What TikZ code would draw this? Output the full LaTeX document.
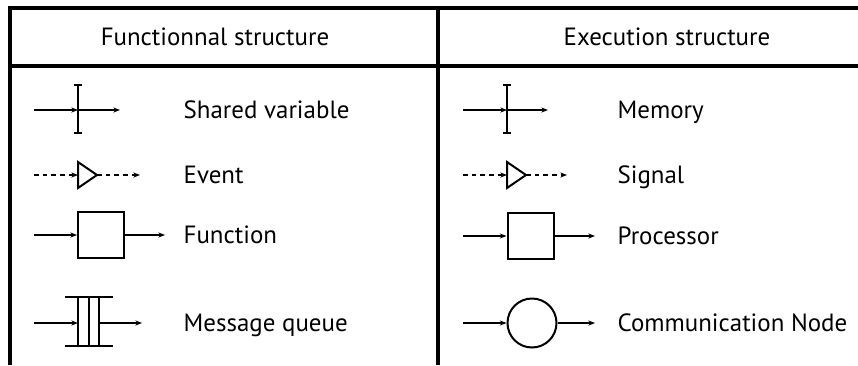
\documentclass[tikz,border=0pt]{standalone}
\usepackage{fontspec}
\setmainfont{PT Sans}
\usetikzlibrary{arrows.meta}

\begin{document}
\begin{tikzpicture}[x=0.75pt,y=-0.75pt,line width=1pt,
    >={Stealth[length=5pt,width=3.8pt]},
    frame/.style={line width=3pt},
    shapeline/.style={line width=1.5pt},
    evt/.style={dash pattern=on 3.5pt off 3pt},
    box/.style={draw,shapeline,rectangle,minimum size=34.5pt,inner sep=0pt},
    commnode/.style={draw,shapeline,circle,minimum size=36.75pt,inner sep=0pt},
    hdr/.style={anchor=base,inner sep=0pt,font=\fontsize{18.7}{20}\selectfont},
    lbl/.style={anchor=base west,inner sep=0pt,font=\fontsize{18.7}{20}\selectfont}]

        \useasboundingbox (0,0) rectangle (858,365);

        % table
        \draw[frame] (10,365) -- (10,8) -- (858,8);
        \draw[frame] (10,66) -- (858,66);
        \draw[frame] (438,8) -- (438,365);

        \node[hdr] (hfun) at (215,45) {Functionnal structure};
        \node[hdr] (hexe) at (667,45) {Execution structure};

        % shared variable
        \coordinate (svin) at (34,110);
        \coordinate (svbar) at (78,110);
        \coordinate (svout) at (120,110);
        \draw[shapeline,{Bar[width=6pt]}-{Bar[width=6pt]}] (78,84) -- (78,134);
        \draw[->] (svin) -- (svbar);
        \draw[->] (svbar) -- (svout);
        \node[lbl] (svlbl) at (183,118.5) {Shared variable};

        % event
        \coordinate (evin) at (34,175);
        \coordinate (evl) at (78,175);
        \coordinate (evr) at (97,175);
        \coordinate (evout) at (140,175);
        \draw[shapeline,line join=miter] (78,162) -- (evr) -- (78,188) -- cycle;
        \draw[evt,->] (evin) -- (evl);
        \draw[evt,->] (evr) -- (evout);
        \node[lbl] (evlbl) at (183,183.5) {Event};

        % function
        \node[box] (fun) at (101,235) {};
        \coordinate (funin) at (34,235);
        \coordinate (funout) at (165,235);
        \draw[->] (funin) -- (fun);
        \draw[->] (fun) -- (funout);
        \node[lbl] (funlbl) at (183,243.5) {Function};

        % message queue
        \coordinate (mqin) at (34,323);
        \coordinate (mql) at (78,323);
        \coordinate (mqr) at (99,323);
        \coordinate (mqout) at (142,323);
        \draw[shapeline] (65,297) -- (113,297);
        \draw[shapeline] (65,346) -- (113,346);
        \draw[shapeline] (78,297) -- (78,346);
        \draw[shapeline] (89,297) -- (89,346);
        \draw[shapeline] (99,297) -- (99,346);
        \draw[->] (mqin) -- (mql);
        \draw[->] (mqr) -- (mqout);
        \node[lbl] (mqlbl) at (183,331.5) {Message queue};

        % memory
        \coordinate (memin) at (463,110);
        \coordinate (membar) at (507,110);
        \coordinate (memout) at (548,110);
        \draw[shapeline,{Bar[width=6pt]}-{Bar[width=6pt]}] (507,84) -- (507,134);
        \draw[->] (memin) -- (membar);
        \draw[->] (membar) -- (memout);
        \node[lbl] (memlbl) at (617,118.5) {Memory};

        % signal
        \coordinate (sgin) at (463,175);
        \coordinate (sgl) at (507,175);
        \coordinate (sgr) at (526,175);
        \coordinate (sgout) at (567,175);
        \draw[shapeline,line join=miter] (507,162) -- (sgr) -- (507,188) -- cycle;
        \draw[evt,->] (sgin) -- (sgl);
        \draw[evt,->] (sgr) -- (sgout);
        \node[lbl] (sglbl) at (617,183.5) {Signal};

        % processor
        \node[box] (proc) at (530.5,236) {};
        \coordinate (procin) at (463,236);
        \coordinate (procout) at (595,236);
        \draw[->] (procin) -- (proc);
        \draw[->] (proc) -- (procout);
        \node[lbl] (proclbl) at (617,244.5) {Processor};

        % communication node
        \node[commnode] (comm) at (532,323) {};
        \coordinate (cnin) at (463,323);
        \coordinate (cnout) at (595,323);
        \draw[->] (cnin) -- (comm);
        \draw[->] (comm) -- (cnout);
        \node[lbl] (cnlbl) at (617,331.5) {Communication Node};

\end{tikzpicture}
\end{document}
